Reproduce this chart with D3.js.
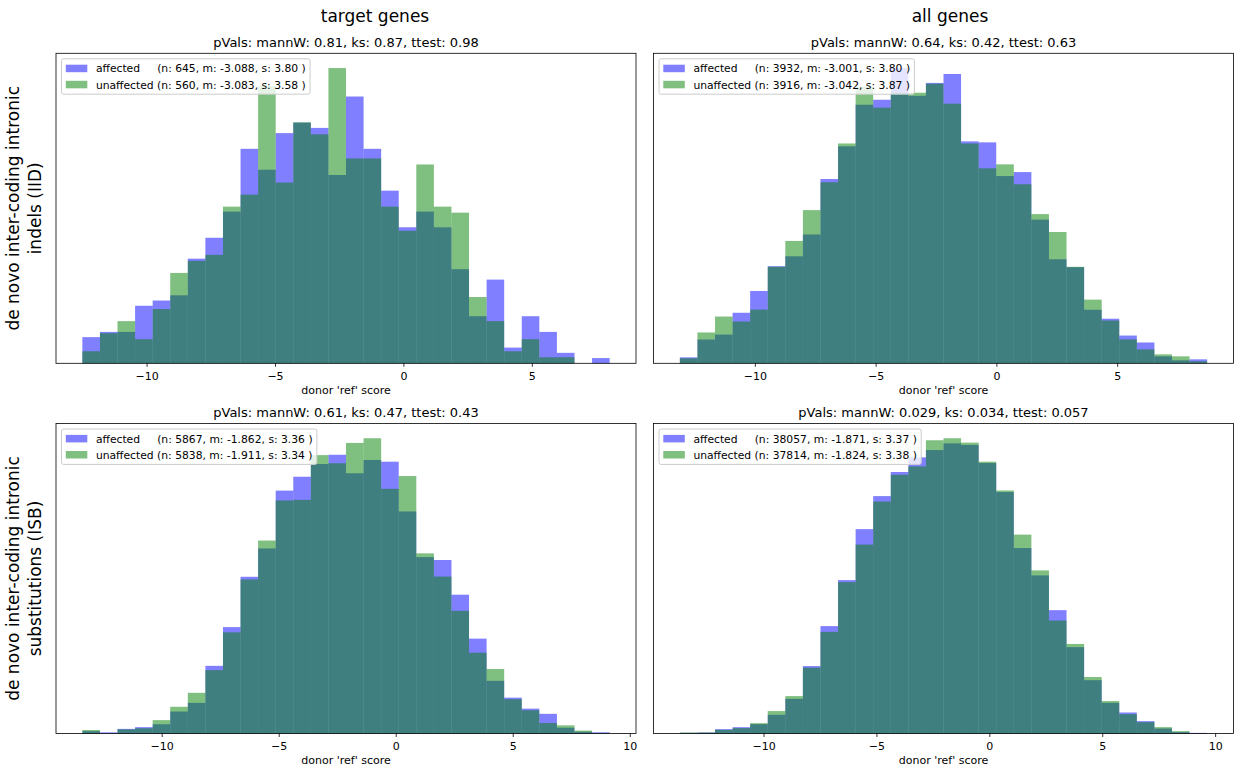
<!DOCTYPE html>
<html>
<head>
<meta charset="utf-8">
<script src="https://cdn.jsdelivr.net/npm/d3@7"></script>
<style>
  body { margin: 0; background: #fff; }
  svg text { font-family: "DejaVu Sans", sans-serif; fill: #000; }
</style>
</head>
<body>
<svg id="fig" width="1238" height="771"></svg>
<script>
// Donor 'ref' score histograms: counts in 30 equal-width bins spanning [lo, hi]
const iidTargetAffected   = [5, 6, 6, 11, 12, 13, 20, 24, 29, 41, 37, 44, 46, 45, 36, 51, 41, 33, 26, 29, 26, 18, 9, 16, 3, 9, 6, 2, 0, 1];
const iidTargetUnaffected = [2, 5, 7, 4, 9, 15, 17, 18, 26, 28, 46, 30, 40, 38, 49, 34, 34, 26, 22, 33, 26, 25, 11, 7, 2, 4, 1, 1, 0, 0];
const iidAllAffected      = [6, 24, 29, 51, 73, 98, 108, 130, 186, 219, 261, 266, 298, 270, 283, 292, 224, 223, 189, 193, 145, 105, 97, 54, 45, 28, 21, 7, 3, 4];
const iidAllUnaffected    = [5, 31, 47, 42, 54, 97, 123, 154, 182, 221, 278, 257, 272, 272, 281, 261, 221, 196, 200, 180, 150, 132, 97, 64, 43, 24, 14, 9, 7, 2];
const isbTargetAffected   = [4, 2, 8, 11, 16, 38, 53, 117, 184, 271, 320, 420, 444, 466, 482, 450, 473, 470, 384, 305, 300, 240, 164, 91, 62, 43, 34, 10, 3, 2];
const isbTargetUnaffected = [6, 0, 7, 9, 23, 46, 70, 109, 174, 265, 332, 401, 402, 479, 465, 500, 508, 421, 443, 310, 270, 211, 139, 111, 59, 40, 18, 14, 5, 1];
const isbAllAffected      = [7, 11, 48, 70, 103, 207, 384, 747, 1190, 1700, 2265, 2631, 2898, 3060, 3141, 3215, 3198, 2997, 2676, 2055, 1752, 1367, 957, 591, 340, 233, 137, 55, 15, 7];
const isbAllUnaffected    = [11, 11, 40, 59, 114, 247, 412, 725, 1119, 1667, 2080, 2554, 2849, 2941, 3229, 3251, 3203, 2993, 2676, 2190, 1796, 1244, 986, 622, 357, 213, 125, 70, 26, 4];

// Score range covered by the bins of each panel
const iidTargetRange = [-12.50, 8.03];
const iidAllRange    = [-13.105, 8.726];
const isbTargetRange = [-13.39, 9.14];
const isbAllRange    = [-13.705, 9.646];

// Tick values
const topRowTicks    = [-10, -5, 0, 5];
const bottomRowTicks = [-10, -5, 0, 5, 10];

// Text
const columnTitles = ["target genes", "all genes"];
const rowTitles = [
  ["de novo inter-coding intronic", "indels (IID)"],
  ["de novo inter-coding intronic", "substitutions (ISB)"]
];
const pvalTitles = [
  "pVals: mannW: 0.81, ks: 0.87, ttest: 0.98",
  "pVals: mannW: 0.64, ks: 0.42, ttest: 0.63",
  "pVals: mannW: 0.61, ks: 0.47, ttest: 0.43",
  "pVals: mannW: 0.029, ks: 0.034, ttest: 0.057"
];
const affectedStats = [
  "(n: 645, m: -3.088, s: 3.80 )",
  "(n: 3932, m: -3.001, s: 3.80 )",
  "(n: 5867, m: -1.862, s: 3.36 )",
  "(n: 38057, m: -1.871, s: 3.37 )"
];
const unaffectedStats = [
  "(n: 560, m: -3.083, s: 3.58 )",
  "(n: 3916, m: -3.042, s: 3.87 )",
  "(n: 5838, m: -1.911, s: 3.34 )",
  "(n: 37814, m: -1.824, s: 3.38 )"
];
const xLabel = "donor 'ref' score";

// ---- layout ----
const axW = 580, axH = 310;
const colX = [56, 653.5];
const rowY = [53.3, 423.5];
const AFF_COLOR = "#0000ff", UNAFF_COLOR = "#008000";

const panels = [
  { row: 0, col: 0, aff: iidTargetAffected, unaff: iidTargetUnaffected, range: iidTargetRange, ticks: topRowTicks },
  { row: 0, col: 1, aff: iidAllAffected,    unaff: iidAllUnaffected,    range: iidAllRange,    ticks: topRowTicks },
  { row: 1, col: 0, aff: isbTargetAffected, unaff: isbTargetUnaffected, range: isbTargetRange, ticks: bottomRowTicks },
  { row: 1, col: 1, aff: isbAllAffected,    unaff: isbAllUnaffected,    range: isbAllRange,    ticks: bottomRowTicks }
];

const svg = d3.select("#fig");

// density-normalised bins
function densityBins(counts, lo, w) {
  const n = d3.sum(counts);
  return counts.map((c, i) => ({ x0: lo + i * w, x1: lo + (i + 1) * w, d: c / (n * w) }));
}

function drawLegend(g, ax0, ay0, statsA, statsU) {
  const fs = 10.75, pad = 4.3, hl = 21.5, hh = 7.5, tp = 8.6, rowH = 10.7, ls = 5.4;
  const bx = ax0 + 5.5, by = ay0 + 5.5;
  const lg = g.append("g");
  const box = lg.append("rect")
    .attr("x", bx).attr("y", by).attr("rx", 2).attr("ry", 2)
    .attr("fill", "#fff").attr("fill-opacity", 0.8)
    .attr("stroke", "#cccccc").attr("stroke-width", 1);
  const entries = [
    { color: AFF_COLOR, label: "affected     " + statsA },
    { color: UNAFF_COLOR, label: "unaffected " + statsU }
  ];
  let maxW = 0;
  entries.forEach((e, i) => {
    const cy = by + pad + rowH / 2 + i * (rowH + ls);
    lg.append("rect")
      .attr("x", bx + pad).attr("y", cy - hh / 2)
      .attr("width", hl).attr("height", hh)
      .attr("fill", e.color).attr("fill-opacity", 0.5);
    const t = lg.append("text")
      .attr("x", bx + pad + hl + tp).attr("y", cy + 4)
      .style("white-space", "pre")
      .attr("font-size", fs)
      .text(e.label);
    maxW = Math.max(maxW, t.node().getComputedTextLength());
  });
  box.attr("width", pad + hl + tp + maxW + pad)
     .attr("height", 2 * pad + 2 * rowH + ls);
}

panels.forEach((p, k) => {
  const x0 = colX[p.col], y0 = rowY[p.row];
  const [lo, hi] = p.range;
  const span = hi - lo;
  const w = span / p.aff.length;
  const x = d3.scaleLinear().domain([lo - 0.05 * span, hi + 0.05 * span]).range([x0, x0 + axW]);
  const aff = densityBins(p.aff, lo, w);
  const unaff = densityBins(p.unaff, lo, w);
  const ymax = d3.max(aff.concat(unaff), d => d.d);
  const y = d3.scaleLinear().domain([0, ymax * 1.05]).range([y0 + axH, y0]);

  const g = svg.append("g");

  [[aff, AFF_COLOR], [unaff, UNAFF_COLOR]].forEach(([bins, color]) => {
    g.append("g").selectAll("rect")
      .data(bins.filter(d => d.d > 0))
      .join("rect")
      .attr("x", d => x(d.x0))
      .attr("width", d => x(d.x1) - x(d.x0))
      .attr("y", d => y(d.d))
      .attr("height", d => y(0) - y(d.d))
      .attr("fill", color)
      .attr("fill-opacity", 0.5);
  });

  // x axis
  const axis = d3.axisBottom(x)
    .tickValues(p.ticks)
    .tickSize(3.5)
    .tickPadding(5.4)
    .tickFormat(d3.format("d"));
  const ag = g.append("g").attr("transform", `translate(0,${y0 + axH})`).call(axis);
  ag.select(".domain").remove();
  ag.selectAll(".tick line").attr("stroke", "#000").attr("stroke-width", 0.8);
  ag.selectAll(".tick text")
    .attr("fill", "#000")
    .attr("font-size", 11)
    .attr("font-family", "DejaVu Sans, sans-serif");

  // frame
  g.append("rect")
    .attr("x", x0).attr("y", y0).attr("width", axW).attr("height", axH)
    .attr("fill", "none").attr("stroke", "#000").attr("stroke-width", 0.8);

  // x label
  g.append("text")
    .attr("x", x0 + axW / 2).attr("y", y0 + axH + 30.7)
    .attr("text-anchor", "middle").attr("font-size", 11)
    .text(xLabel);

  // panel title
  g.append("text")
    .attr("x", x0 + axW / 2).attr("y", y0 - 6.7)
    .attr("text-anchor", "middle").attr("font-size", 13)
    .text(pvalTitles[k]);

  drawLegend(g, x0, y0, affectedStats[k], unaffectedStats[k]);
});

// column titles
const colTitleX = [375, 950];
columnTitles.forEach((t, i) => {
  svg.append("text")
    .attr("x", colTitleX[i]).attr("y", 22)
    .attr("text-anchor", "middle").attr("font-size", 17)
    .text(t);
});

// row titles (two lines, rotated)
rowTitles.forEach((lines, r) => {
  const cy = rowY[r] + axH / 2;
  lines.forEach((line, j) => {
    svg.append("text")
      .attr("transform", `translate(${19 + j * 22},${cy}) rotate(-90)`)
      .attr("text-anchor", "middle").attr("font-size", 17)
      .text(line);
  });
});
</script>
</body>
</html>
